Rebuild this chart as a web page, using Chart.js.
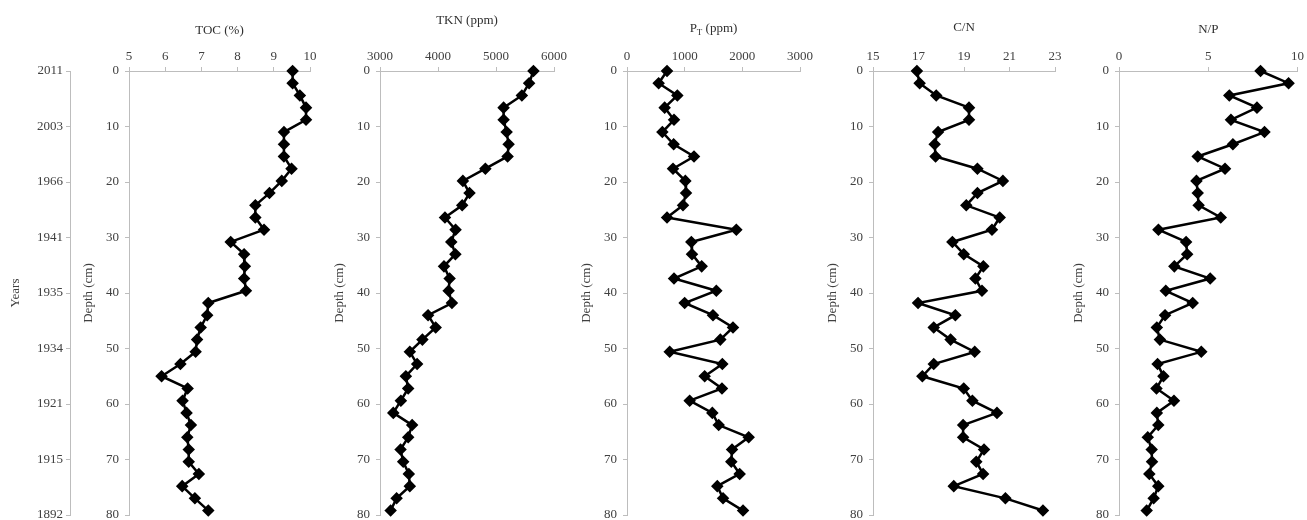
<!DOCTYPE html>
<html>
<head>
<meta charset="utf-8">
<script src="https://cdn.jsdelivr.net/npm/chart.js@4.4.1/dist/chart.umd.min.js"></script>
<style>
body { margin: 0; background: #fff; }
#wrap { position: relative; width: 1307px; height: 520px; overflow: hidden; }
#wrap canvas { position: absolute; top: 0; }
</style>
</head>
<body>
<div id="wrap"></div>
<script>
// depth of each sample (cm), shared by every profile
const depth = [0, 2.2, 4.4, 6.6, 8.8, 11, 13.2, 15.4, 17.6, 19.8, 22, 24.2, 26.4, 28.6, 30.8, 33, 35.2, 37.4, 39.6, 41.8,
    44, 46.2, 48.4, 50.6, 52.8, 55, 57.2, 59.4, 61.6, 63.8, 66, 68.2, 70.4, 72.6, 74.8, 77, 79.2];

// years shown on the left axis at depth 0, 10, ... 80
const yearLabels = ['2011', '2003', '1966', '1941', '1935', '1934', '1921', '1915', '1892'];

const toc = [9.52, 9.52, 9.72, 9.89, 9.89, 9.28, 9.28, 9.28, 9.49, 9.22, 8.88, 8.49, 8.49, 8.73, 7.81, 8.18, 8.2, 8.18, 8.23, 7.19,
    7.16, 6.98, 6.88, 6.84, 6.42, 5.9, 6.62, 6.48, 6.59, 6.71, 6.61, 6.65, 6.65, 6.93, 6.47, 6.82, 7.19];

const tkn = [5646, 5571, 5446, 5131, 5131, 5183, 5217, 5200, 4817, 4429, 4543, 4417, 4120, 4303, 4229, 4300, 4103, 4200, 4183, 4240,
    3829, 3960, 3731, 3514, 3640, 3446, 3486, 3360, 3229, 3554, 3486, 3354, 3400, 3497, 3514, 3286, 3183];

const pt = [694, 549, 873, 653, 815, 613, 809, 1162, 798, 1012, 1023, 971, 694, 1896, 1116, 1127, 1295, 815, 1549, 1000,
    1491, 1838, 1618, 740, 1653, 1347, 1647, 1087, 1480, 1590, 2110, 1821, 1809, 1954, 1566, 1665, 2012];

const cn = [16.93, 17.05, 17.78, 19.22, 19.22, 17.86, 17.71, 17.75, 19.59, 20.71, 19.59, 19.1, 20.57, 20.23, 18.49, 18.99, 19.85, 19.5, 19.79, 16.98,
    18.62, 17.67, 18.41, 19.47, 17.67, 17.17, 18.99, 19.37, 20.45, 18.96, 18.96, 19.88, 19.54, 19.84, 18.55, 20.82, 22.47];

const np = [7.93, 9.5, 6.18, 7.73, 6.27, 8.15, 6.38, 4.41, 5.94, 4.34, 4.41, 4.46, 5.7, 2.21, 3.76, 3.82, 3.1, 5.11, 2.62, 4.13,
    2.58, 2.12, 2.29, 4.61, 2.16, 2.49, 2.1, 3.08, 2.12, 2.2, 1.61, 1.83, 1.85, 1.7, 2.2, 1.94, 1.55];

Chart.defaults.font.family = "'Liberation Serif', 'Times New Roman', serif";
Chart.defaults.font.size = 13;
Chart.defaults.color = '#404040';

const wrap = document.getElementById('wrap');
const axisColor = '#bdbdbd';
const canvasH = 530;   // taller than the page, bottom is cut off by the wrapper
const bottomPad = 15;  // puts depth 80 at y = 515

function addCanvas(left, width) {
    const cv = document.createElement('canvas');
    cv.width = width;
    cv.height = canvasH;
    cv.style.left = left + 'px';
    wrap.appendChild(cv);
    return cv;
}

// title above each panel, parts can be subscripts (for P_T)
function titlePlugin(parts, y) {
    return {
        id: 'panelTitle',
        afterDraw(chart) {
            const ctx = chart.ctx;
            const area = chart.chartArea;
            const big = "13px 'Liberation Serif'";
            const small = "9px 'Liberation Serif'";
            ctx.save();
            ctx.fillStyle = '#303030';
            ctx.textBaseline = 'middle';
            ctx.textAlign = 'left';
            let total = 0;
            parts.forEach(p => {
                ctx.font = p.sub ? small : big;
                total += ctx.measureText(p.t).width;
            });
            let x = (area.left + area.right) / 2 - total / 2;
            parts.forEach(p => {
                ctx.font = p.sub ? small : big;
                ctx.fillText(p.t, x, p.sub ? y + 4 : y);
                x += ctx.measureText(p.t).width;
            });
            ctx.restore();
        }
    };
}

function makePanel(left, width, rightPad, values, xMin, xMax, step, parts, titleY) {
    const cv = addCanvas(left, width);
    new Chart(cv, {
        type: 'scatter',
        data: {
            datasets: [{
                data: values.map((v, i) => ({ x: v, y: depth[i] })),
                showLine: true,
                borderColor: '#000',
                borderWidth: 2.5,
                pointStyle: 'rectRot',
                pointRadius: 4.5,
                pointBackgroundColor: '#000',
                pointBorderColor: '#000',
                clip: false
            }]
        },
        options: {
            responsive: false,
            animation: false,
            devicePixelRatio: 1,
            layout: { padding: { top: 0, right: rightPad, bottom: bottomPad, left: 0 } },
            plugins: { legend: { display: false }, tooltip: { enabled: false } },
            scales: {
                x: {
                    type: 'linear',
                    position: 'top',
                    min: xMin,
                    max: xMax,
                    ticks: { stepSize: step, padding: 3, callback: v => String(v) },
                    grid: { drawOnChartArea: false, tickLength: 4, color: axisColor },
                    border: { color: axisColor },
                    afterFit: s => { s.height = 71; }
                },
                y: {
                    type: 'linear',
                    reverse: true,
                    min: 0,
                    max: 80,
                    ticks: { stepSize: 10, padding: 6 },
                    grid: { drawOnChartArea: false, tickLength: 4, color: axisColor },
                    border: { color: axisColor },
                    title: { display: true, text: 'Depth (cm)', padding: { top: 2, bottom: 2 } },
                    afterFit: s => { s.width = 50; }
                }
            }
        },
        plugins: [titlePlugin(parts, titleY)]
    });
}

// years axis on the far left
new Chart(addCanvas(0, 76), {
    type: 'scatter',
    data: { datasets: [{ data: [] }] },
    options: {
        responsive: false,
        animation: false,
        devicePixelRatio: 1,
        layout: { padding: { top: 71, right: 6, bottom: bottomPad, left: 0 } },
        plugins: { legend: { display: false }, tooltip: { enabled: false } },
        scales: {
            x: { display: false, min: 0, max: 1 },
            y: {
                type: 'linear',
                reverse: true,
                min: 0,
                max: 80,
                ticks: { stepSize: 10, padding: 3, callback: v => yearLabels[v / 10] },
                grid: { drawOnChartArea: false, tickLength: 4, color: axisColor },
                border: { color: axisColor },
                title: { display: true, text: 'Years', padding: { top: 8, bottom: 2 } },
                afterFit: s => { s.width = 70; }
            }
        }
    }
});

makePanel(79, 246, 15, toc, 5, 10, 1, [{ t: 'TOC (%)' }], 31);
makePanel(330, 240, 15, tkn, 3000, 6000, 1000, [{ t: 'TKN (ppm)' }], 21);
makePanel(577, 239, 15, pt, 0, 3000, 1000, [{ t: 'P' }, { t: 'T', sub: true }, { t: ' (ppm)' }], 29);
makePanel(823, 247, 15, cn, 15, 23, 2, [{ t: 'C/N' }], 28);
makePanel(1069, 238, 7, np, 0, 10, 5, [{ t: 'N/P' }], 30);
</script>
</body>
</html>
